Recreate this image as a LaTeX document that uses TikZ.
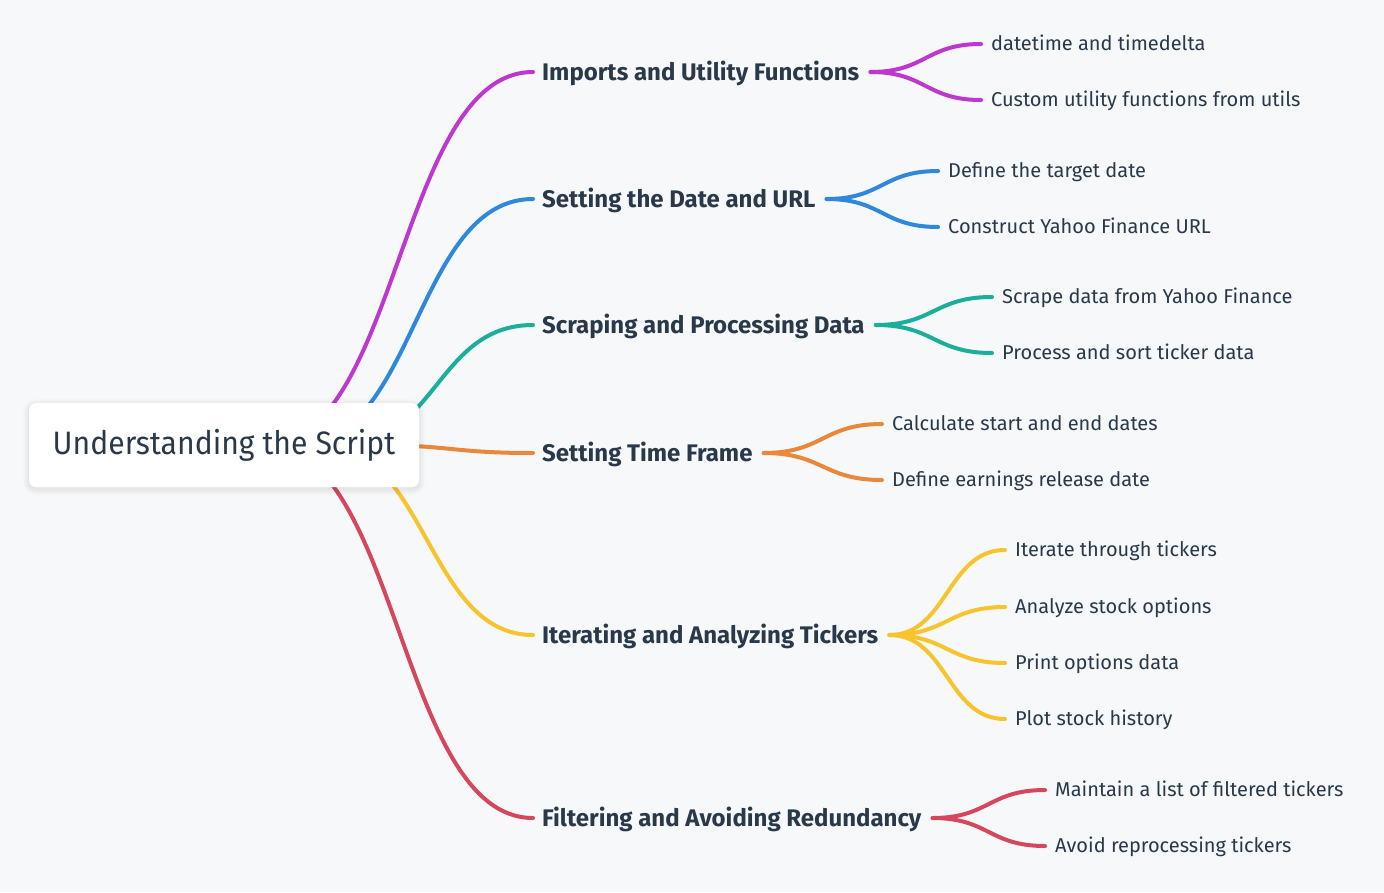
\documentclass[tikz,border=0pt]{standalone}
\usepackage{fontspec}
\setmainfont{Fira Sans}
\newfontfamily\rootfont[FakeStretch=0.93]{Fira Sans}
\usetikzlibrary{calc}
\definecolor{paper}{HTML}{F7F8FA}
\definecolor{ink}{HTML}{2A3949}
\definecolor{cMag}{HTML}{BE38CF}
\definecolor{cBlue}{HTML}{2F88DB}
\definecolor{cTeal}{HTML}{1BAF9B}
\definecolor{cOrange}{HTML}{E9873B}
\definecolor{cYellow}{HTML}{F7C42E}
\definecolor{cRed}{HTML}{D6475E}
% horizontal S-link: control points at the mid x of both ends
\newcommand\mmlink[3]{%
  \path ($(#1)!.5!(#2)$) coordinate (mmmid);
  \draw[branch,#3] (#1) .. controls (#1 -| mmmid) and (#2 -| mmmid) .. (#2);}
\begin{document}
\begin{tikzpicture}[x=1pt,y=-1pt,
  branch/.style={line width=4pt,line cap=round},
  topic/.style={anchor=west,inner sep=0pt,text=ink,
    font=\bfseries\fontsize{24}{24}\selectfont,text height=16.5pt,text depth=0pt},
  leaf/.style={anchor=west,inner sep=0pt,text=ink,
    font=\fontsize{20}{20}\selectfont,text height=13.8pt,text depth=0pt},
  rootbox/.style={fill=white,rounded corners=7pt,minimum width=390pt,
    minimum height=84pt,inner sep=0pt,text=ink,
    font=\rootfont\fontsize{32.4}{32.4}\selectfont}]

\fill[paper] (0,0) rectangle (1384,892);

% main topics
\node[topic] (p1) at (542,72)  {Imports and Utility Functions};
\node[topic] (p2) at (542,199) {Setting the Date and URL};
\node[topic] (p3) at (542,325) {Scraping and Processing Data};
\node[topic] (p4) at (542,453) {Setting Time Frame};
\node[topic] (p5) at (542,635) {Iterating and Analyzing Tickers};
\node[topic] (p6) at (542,818) {Filtering and Avoiding Redundancy};

% details
\node[leaf] (l11) at (991,44)   {datetime and timedelta};
\node[leaf] (l12) at (991,100)  {Custom utility functions from utils};
\node[leaf] (l21) at (948,171)  {Define the target date};
\node[leaf] (l22) at (948,227)  {Construct Yahoo Finance URL};
\node[leaf] (l31) at (1002,297) {Scrape data from Yahoo Finance};
\node[leaf] (l32) at (1002,353) {Process and sort ticker data};
\node[leaf] (l41) at (892,424)  {Calculate start and end dates};
\node[leaf] (l42) at (892,480)  {Define earnings release date};
\node[leaf] (l51) at (1015,550) {Iterate through tickers};
\node[leaf] (l52) at (1015,607) {Analyze stock options};
\node[leaf] (l53) at (1015,663) {Print options data};
\node[leaf] (l54) at (1015,719) {Plot stock history};
\node[leaf] (l61) at (1055,790) {Maintain a list of filtered tickers};
\node[leaf] (l62) at (1055,846) {Avoid reprocessing tickers};

% link anchors
\coordinate (s1) at (265,445);
\coordinate (s2) at (298,445);
\coordinate (s3) at (340,445);
\coordinate (s4) at (370,445);
\coordinate (s5) at (321,445);
\coordinate (s6) at (265,445);
\foreach \i in {1,...,6}{
  \coordinate (p\i in)  at ([xshift=-9pt]p\i.west);
  \coordinate (p\i out) at ([xshift=11pt]p\i.east);
}
\foreach \l in {11,12,21,22,31,32,41,42,51,52,53,54,61,62}{
  \coordinate (l\l in) at ([xshift=-10pt]l\l.west);
}

% root to topics
\mmlink{s1}{p1in}{cMag}
\mmlink{s2}{p2in}{cBlue}
\mmlink{s3}{p3in}{cTeal}
\mmlink{s4}{p4in}{cOrange}
\mmlink{s5}{p5in}{cYellow}
\mmlink{s6}{p6in}{cRed}

% topics to details
\mmlink{p1out}{l11in}{cMag}
\mmlink{p1out}{l12in}{cMag}
\mmlink{p2out}{l21in}{cBlue}
\mmlink{p2out}{l22in}{cBlue}
\mmlink{p3out}{l31in}{cTeal}
\mmlink{p3out}{l32in}{cTeal}
\mmlink{p4out}{l41in}{cOrange}
\mmlink{p4out}{l42in}{cOrange}
\mmlink{p5out}{l51in}{cYellow}
\mmlink{p5out}{l52in}{cYellow}
\mmlink{p5out}{l53in}{cYellow}
\mmlink{p5out}{l54in}{cYellow}
\mmlink{p6out}{l61in}{cRed}
\mmlink{p6out}{l62in}{cRed}

% soft shadow under the central box
\foreach \g in {1,...,6}{
  \fill[black,opacity=0.012,rounded corners=7pt+\g pt]
    (29-\g,403-\g+2) rectangle (419+\g,487+\g+2);
}
\node[rootbox] (root) at (224,445) {Understanding the Script};
\end{tikzpicture}
\end{document}
